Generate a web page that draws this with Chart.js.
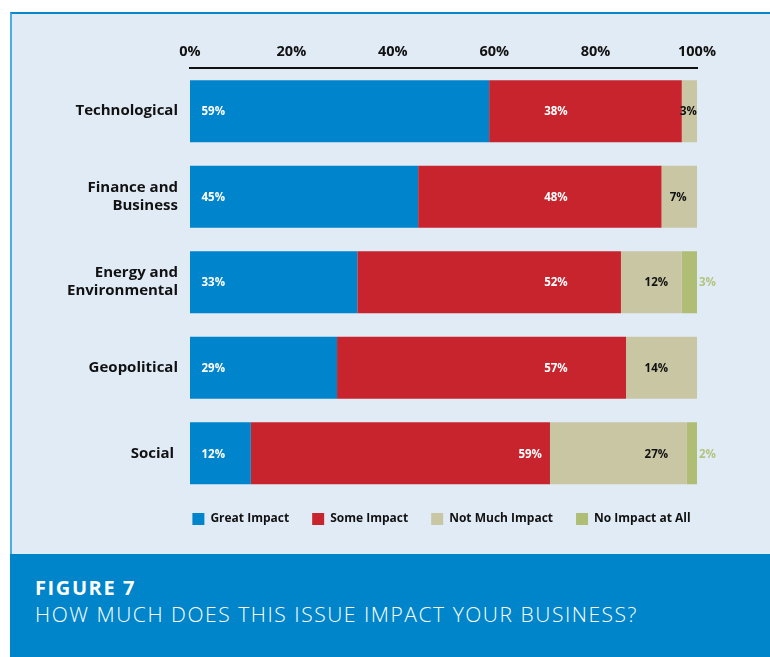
<!DOCTYPE html>
<html>
<head>
<meta charset="utf-8">
<script src="https://cdn.jsdelivr.net/npm/chart.js@4.4.1/dist/chart.umd.min.js"></script>
<style>
  html, body { margin: 0; padding: 0; background: #fff; overflow: hidden; }
  body { width: 770px; height: 657px; position: relative; font-family: 'Open Sans', sans-serif; }
  #panel {
    position: absolute; left: 10px; top: 12px; width: 800px; height: 542px;
    background: #e1ebf6; border-top: 2px solid #0a87cc; border-left: 2px solid #4aaee2;
    box-sizing: border-box;
  }
  #banner {
    position: absolute; left: 10px; top: 554px; width: 800px; height: 103px;
    background: #0085ca; color: #fff;
  }
  #banner .fig { position: absolute; left: 25px; top: 20px; font-size: 20px; font-weight: 700; letter-spacing: 1.6px; }
  #banner .q { position: absolute; left: 25px; top: 46px; font-size: 21px; font-weight: 300; letter-spacing: 1.55px; white-space: nowrap; }
  #wrap { position: absolute; left: 0; top: 0; width: 770px; height: 554px; }
</style>
</head>
<body>
<div id="panel"></div>
<div id="banner">
  <div class="fig">FIGURE 7</div>
  <div class="q">HOW MUCH DOES THIS ISSUE IMPACT YOUR BUSINESS?</div>
</div>
<div id="wrap"><canvas id="myChart"></canvas></div>
<script>
'use strict';
let categories = [['Technological'], ['Finance and', 'Business'], ['Energy and', 'Environmental'], ['Geopolitical'], ['Social ']];
let seriesNames = ['Great Impact', 'Some Impact', 'Not Much Impact', 'No Impact at All'];
let greatImpact = [59, 45, 33, 29, 12];
let someImpact = [38, 48, 52, 57, 59];
let notMuchImpact = [3, 7, 12, 14, 27];
let noImpact = [0, 0, 3, 0, 2];
let tickValues = [0, 20, 40, 60, 80, 100];
let colors = ['#0085cc', '#c8242d', '#c9c6a4', '#afbe74'];

// value labels on the bars, placed like the printed figure
let barLabels = {
  id: 'barLabels',
  afterDatasetsDraw(chart) {
    let ctx = chart.ctx;
    let xs = chart.scales.x;
    ctx.save();
    ctx.font = 'bold 11.5px "Open Sans"';
    ctx.textBaseline = 'middle';
    chart.data.datasets.forEach((ds, i) => {
      let meta = chart.getDatasetMeta(i);
      meta.data.forEach((bar, j) => {
        let v = ds.data[j];
        if (!v) return;
        let left = Math.min(bar.x, bar.base);
        let right = Math.max(bar.x, bar.base);
        let txt = v + '%';
        let x;
        if (i === 0) {
          ctx.fillStyle = '#fff';
          ctx.textAlign = 'right';
          x = left + 35;
        } else if (i === 1) {
          ctx.fillStyle = '#fff';
          ctx.textAlign = 'right';
          x = Math.min(xs.getPixelForValue(74.5), right - 8);
        } else if (i === 2) {
          ctx.fillStyle = '#111';
          if (right - left > 45) {
            ctx.textAlign = 'right';
            x = xs.getPixelForValue(94.3);
          } else {
            ctx.textAlign = 'center';
            x = (left + right) / 2 - 1;
          }
        } else {
          ctx.fillStyle = '#b3c47f';
          ctx.textAlign = 'left';
          x = right + 2;
        }
        ctx.fillText(txt, x, bar.y + 1);
      });
    });
    ctx.restore();
  }
};

// centre the legend under the plot area instead of the whole canvas
let legendShift = {
  id: 'legendShift',
  afterLayout(chart) {
    let lg = chart.legend;
    let a = chart.chartArea;
    let w = lg.right - lg.left;
    lg.left = (a.left + a.right) / 2 - w / 2 - 2;
    lg.right = lg.left + w;
    lg.top -= 6;
    lg.bottom -= 6;
  }
};

let ctx = document.getElementById('myChart').getContext('2d');
let myChart = new Chart(ctx, {
  type: 'bar',
  data: {
    labels: categories,
    datasets: [greatImpact, someImpact, notMuchImpact, noImpact].map((d, i) => ({
      label: seriesNames[i],
      data: d,
      backgroundColor: colors[i],
      borderWidth: 0,
      barPercentage: 0.725,
      categoryPercentage: 1
    }))
  },
  options: {
    indexAxis: 'y',
    responsive: true,
    maintainAspectRatio: false,
    animation: false,
    layout: { padding: { top: 35, right: 73, bottom: 13, left: 0 } },
    scales: {
      x: {
        position: 'top',
        stacked: true,
        min: 0,
        max: 100,
        afterBuildTicks: (s) => { s.ticks = tickValues.map(v => ({ value: v })); },
        ticks: {
          callback: (v) => v + '%',
          color: '#111',
          font: { family: 'Open Sans', size: 14.5, weight: 'bold' },
          padding: 8,
          maxRotation: 0
        },
        grid: { display: false, drawTicks: false },
        border: { display: true, color: '#111', width: 2 }
      },
      y: {
        stacked: true,
        afterFit: (s) => { s.width = 190; },
        ticks: {
          color: '#111',
          font: { family: 'Open Sans', size: 15, weight: 'bold', lineHeight: 1.2 },
          padding: 12
        },
        grid: { display: false, drawTicks: false },
        border: { display: false }
      }
    },
    plugins: {
      legend: {
        position: 'bottom',
        labels: {
          boxWidth: 12,
          boxHeight: 12,
          padding: 23,
          color: '#111',
          font: { family: 'Open Sans', size: 12, weight: 'bold' }
        }
      },
      tooltip: { enabled: false }
    }
  },
  plugins: [barLabels, legendShift]
});
</script>
</body>
</html>
